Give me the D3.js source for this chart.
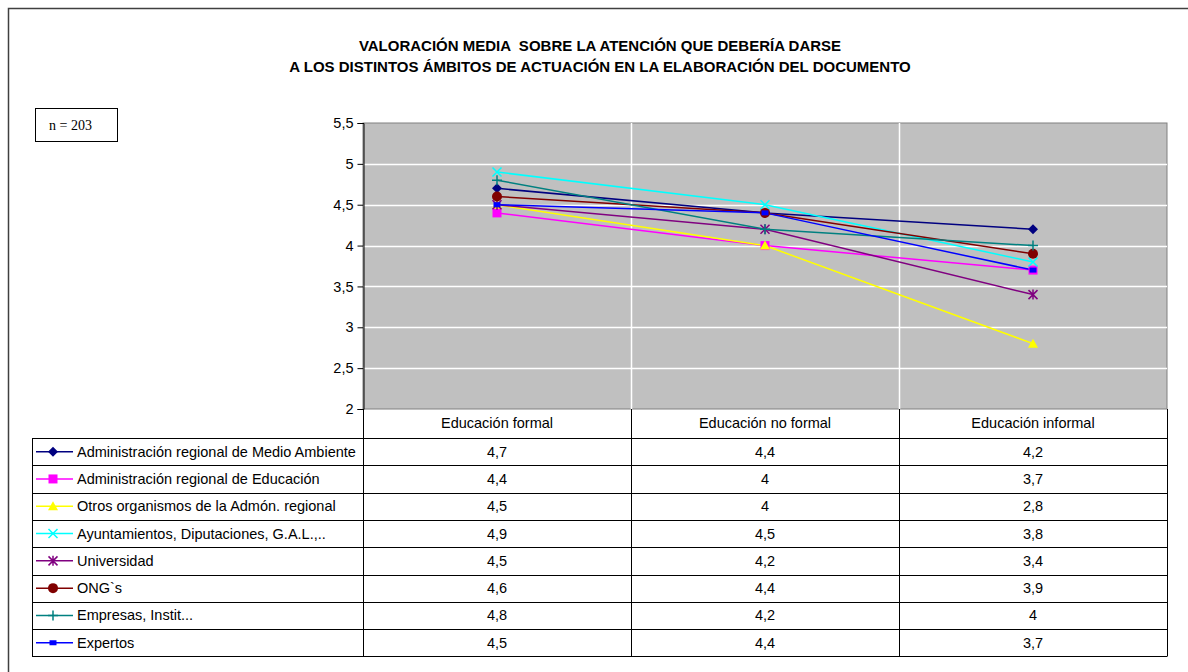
<!DOCTYPE html>
<html><head><meta charset="utf-8">
<script src="https://cdn.jsdelivr.net/npm/d3@7"></script>
<style>body{margin:0;background:#fff}svg{display:block}</style>
</head><body>
<svg id="c" width="1188" height="672"></svg>
<script>
const titleLines = ["VALORACIÓN MEDIA  SOBRE LA ATENCIÓN QUE DEBERÍA DARSE", "A LOS DISTINTOS ÁMBITOS DE ACTUACIÓN EN LA ELABORACIÓN DEL DOCUMENTO"];
const categories = ["Educación formal", "Educación no formal", "Educación informal"];
const seriesNames = ["Administración regional de Medio Ambiente", "Administración regional de Educación", "Otros organismos de la Admón. regional", "Ayuntamientos, Diputaciones, G.A.L.,..", "Universidad", "ONG`s", "Empresas, Instit...", "Expertos"];
const admMedioAmbiente = [4.7, 4.4, 4.2];
const admEducacion = [4.4, 4, 3.7];
const otrosOrganismos = [4.5, 4, 2.8];
const ayuntamientos = [4.9, 4.5, 3.8];
const universidad = [4.5, 4.2, 3.4];
const ongs = [4.6, 4.4, 3.9];
const empresas = [4.8, 4.2, 4];
const expertos = [4.5, 4.4, 3.7];
const yTicks = [2, 2.5, 3, 3.5, 4, 4.5, 5, 5.5];
const note = "n = 203";

const seriesValues = [admMedioAmbiente, admEducacion, otrosOrganismos, ayuntamientos, universidad, ongs, empresas, expertos];
const colors = ["#000080", "#FF00FF", "#FFFF00", "#00FFFF", "#800080", "#800000", "#008080", "#0000FF"];
const markers = ["diamond", "square", "triangle", "x", "star", "circle", "plus", "dash"];

const svg = d3.select("#c");
const fmt = v => String(v).replace(".", ",");
const font = "Liberation Sans, Arial, sans-serif";
const fs = 14.5;

// outer border
svg.append("rect").attr("x", 8.5).attr("y", 8.5).attr("width", 1200).attr("height", 700)
  .attr("fill", "none").attr("stroke", "#404040").attr("stroke-width", 1.5);

// title
svg.append("g").selectAll("text").data(titleLines).join("text")
  .attr("x", 600).attr("y", (d, i) => 50.5 + i * 21)
  .attr("text-anchor", "middle").attr("font-family", font).attr("font-weight", "bold")
  .attr("font-size", 15).style("white-space", "pre").text(d => d);

// note box
svg.append("rect").attr("x", 35.5).attr("y", 108.5).attr("width", 82).attr("height", 33)
  .attr("fill", "#fff").attr("stroke", "#000").attr("stroke-width", 1);
svg.append("text").attr("x", 49).attr("y", 129.5).attr("font-family", "Liberation Serif, Times New Roman, serif")
  .attr("font-size", 14).text(note);

const plotL = 363, plotR = 1167, plotT = 123, plotB = 409;
const x = d3.scaleBand().domain(categories).range([plotL, plotR]).padding(0);
const y = d3.scaleLinear().domain([2, 5.5]).range([plotB, plotT]);

svg.append("rect").attr("x", plotL).attr("y", plotT).attr("width", plotR - plotL).attr("height", plotB - plotT)
  .attr("fill", "#C0C0C0").attr("stroke", "#808080").attr("stroke-width", 1);

// gridlines
svg.append("g").selectAll("line").data(yTicks.filter(t => t > 2 && t < 5.5)).join("line")
  .attr("x1", plotL).attr("x2", plotR).attr("y1", d => Math.round(y(d)) + 0.5).attr("y2", d => Math.round(y(d)) + 0.5)
  .attr("stroke", "#fff").attr("stroke-width", 1.5);
svg.append("g").selectAll("line").data(categories.slice(1)).join("line")
  .attr("x1", d => x(d) + 0.5).attr("x2", d => x(d) + 0.5).attr("y1", plotT).attr("y2", plotB)
  .attr("stroke", "#fff").attr("stroke-width", 1.5);

// y axis
const yAxis = d3.axisLeft(y).tickValues(yTicks).tickFormat(fmt).tickSize(6).tickPadding(4);
const ga = svg.append("g").attr("transform", `translate(${plotL + 0.5},0)`).call(yAxis);
ga.select(".domain").attr("stroke", "#000");
ga.selectAll(".tick line").attr("stroke", "#000");
ga.selectAll("text").attr("font-family", font).attr("font-size", fs).attr("fill", "#000");

// lines
const line = d3.line().x((d, i) => x(categories[i]) + x.bandwidth() / 2).y(d => y(d));
seriesValues.forEach((vals, s) => {
  svg.append("path").attr("d", line(vals)).attr("fill", "none").attr("stroke", colors[s]).attr("stroke-width", 1.5);
});

function drawMarker(g, type, cx, cy, color) {
  switch (type) {
    case "diamond":
      g.append("path").attr("d", `M${cx},${cy - 5}L${cx + 5},${cy}L${cx},${cy + 5}L${cx - 5},${cy}Z`).attr("fill", color); break;
    case "square":
      g.append("rect").attr("x", cx - 4.5).attr("y", cy - 4.5).attr("width", 9).attr("height", 9).attr("fill", color); break;
    case "triangle":
      g.append("path").attr("d", `M${cx},${cy - 5}L${cx + 5},${cy + 4}L${cx - 5},${cy + 4}Z`).attr("fill", color); break;
    case "x":
      g.append("path").attr("d", `M${cx - 4.5},${cy - 4.5}L${cx + 4.5},${cy + 4.5}M${cx + 4.5},${cy - 4.5}L${cx - 4.5},${cy + 4.5}`).attr("stroke", color).attr("stroke-width", 1.5); break;
    case "star":
      g.append("path").attr("d", `M${cx - 4.5},${cy - 4.5}L${cx + 4.5},${cy + 4.5}M${cx + 4.5},${cy - 4.5}L${cx - 4.5},${cy + 4.5}M${cx},${cy - 5}L${cx},${cy + 5}`).attr("stroke", color).attr("stroke-width", 1.5); break;
    case "circle":
      g.append("circle").attr("cx", cx).attr("cy", cy).attr("r", 5).attr("fill", color); break;
    case "plus":
      g.append("path").attr("d", `M${cx - 5},${cy}L${cx + 5},${cy}M${cx},${cy - 5}L${cx},${cy + 5}`).attr("stroke", color).attr("stroke-width", 1.5); break;
    case "dash":
      g.append("rect").attr("x", cx - 3.5).attr("y", cy - 2.5).attr("width", 7).attr("height", 5).attr("fill", color); break;
  }
}
seriesValues.forEach((vals, s) => {
  const g = svg.append("g");
  vals.forEach((v, i) => drawMarker(g, markers[s], x(categories[i]) + x.bandwidth() / 2, y(v), colors[s]));
});

// data table
const tableL = 32, headerB = 438, rowH = 27.3;
const rowY = i => headerB + i * rowH;
const tableB = rowY(seriesNames.length);
const tg = svg.append("g");
tg.selectAll("text.h").data(categories).join("text").attr("class", "h")
  .attr("x", d => x(d) + x.bandwidth() / 2).attr("y", 427.5).attr("text-anchor", "middle")
  .attr("font-family", font).attr("font-size", fs).text(d => d);
tg.selectAll("line.r").data(d3.range(seriesNames.length + 1)).join("line").attr("class", "r")
  .attr("x1", tableL).attr("x2", plotR).attr("y1", i => Math.round(rowY(i)) + 0.5).attr("y2", i => Math.round(rowY(i)) + 0.5)
  .attr("stroke", "#000").attr("stroke-width", 1);
tg.append("line").attr("x1", tableL + 0.5).attr("x2", tableL + 0.5).attr("y1", Math.round(headerB) + 0.5).attr("y2", Math.round(tableB) + 0.5).attr("stroke", "#000");
[plotL, x(categories[1]), x(categories[2]), plotR].forEach(px => {
  tg.append("line").attr("x1", px + 0.5).attr("x2", px + 0.5).attr("y1", plotB).attr("y2", Math.round(tableB) + 0.5).attr("stroke", "#000");
});
seriesNames.forEach((name, s) => {
  const cy = rowY(s) + rowH / 2;
  tg.append("line").attr("x1", 36).attr("x2", 73).attr("y1", cy).attr("y2", cy).attr("stroke", colors[s]).attr("stroke-width", 1.5);
  drawMarker(tg, markers[s], 53, cy, colors[s]);
  tg.append("text").attr("x", 77).attr("y", cy + 5).attr("font-family", font).attr("font-size", fs).text(name);
  seriesValues[s].forEach((v, i) => {
    tg.append("text").attr("x", x(categories[i]) + x.bandwidth() / 2).attr("y", cy + 5)
      .attr("text-anchor", "middle").attr("font-family", font).attr("font-size", fs).text(fmt(v));
  });
});
</script>
</body></html>
